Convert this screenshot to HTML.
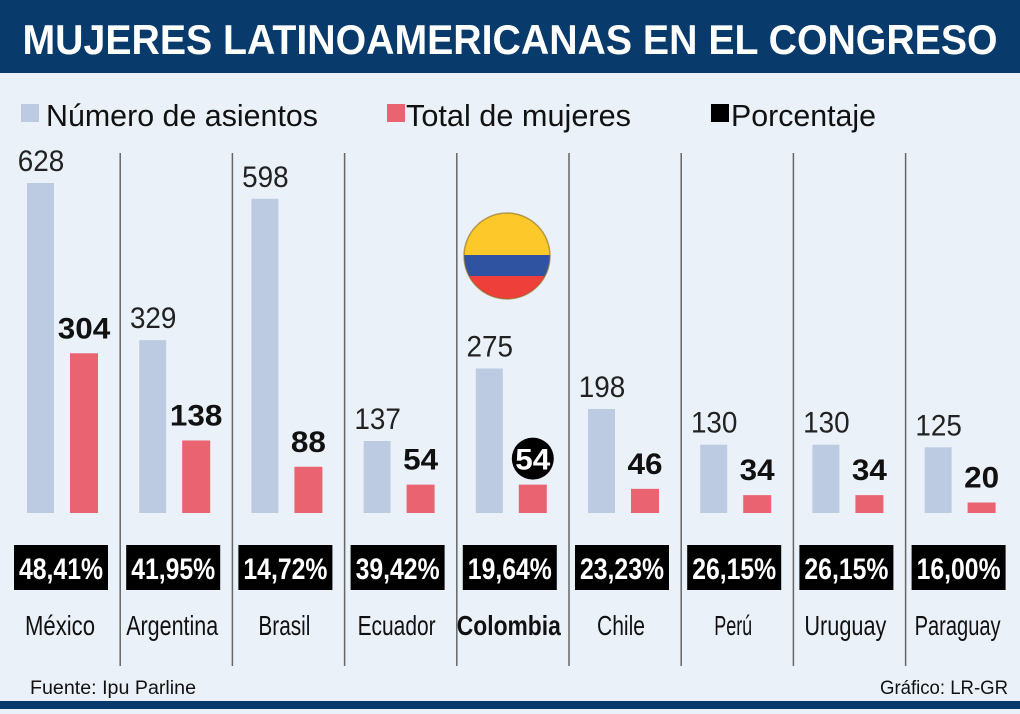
<!DOCTYPE html>
<html><head><meta charset="utf-8"><style>
body{margin:0;width:1020px;height:709px;overflow:hidden;background:#ebf1f9;font-family:"Liberation Sans",sans-serif;}
</style></head><body>
<svg width="1020" height="709" xmlns="http://www.w3.org/2000/svg">
<rect x="0" y="0" width="1020" height="709" fill="#ebf1f9"/>
<rect x="0" y="0" width="1020" height="73" fill="#083b6b"/>
<text x="510" y="54" text-anchor="middle" fill="#fff" font-weight="bold" font-size="42" textLength="975" lengthAdjust="spacingAndGlyphs">MUJERES LATINOAMERICANAS EN EL CONGRESO</text>
<g>
<rect x="21" y="104" width="18" height="18" fill="#bccbe2"/>
<text x="46" y="126" font-size="31" fill="#111" textLength="272" lengthAdjust="spacingAndGlyphs">Número de asientos</text>
<rect x="387" y="104" width="18" height="18" fill="#ea6371"/>
<text x="406" y="126" font-size="31" fill="#111" textLength="225" lengthAdjust="spacingAndGlyphs">Total de mujeres</text>
<rect x="711" y="104" width="18" height="18" fill="#000"/>
<text x="731" y="126" font-size="31" fill="#111" textLength="145" lengthAdjust="spacingAndGlyphs">Porcentaje</text>
</g>
<g id="plot"></g>
<g>
<clipPath id="fc"><circle cx="507" cy="256" r="43"/></clipPath>
<g clip-path="url(#fc)"><rect x="460" y="210" width="95" height="45" fill="#fcc82a"/><rect x="460" y="255" width="95" height="21" fill="#2f53a1"/><rect x="460" y="276" width="95" height="30" fill="#ef3f3a"/></g>
<circle cx="507" cy="256" r="43" fill="none" stroke="#8a6a20" stroke-width="1.5" opacity="0.6"/>
</g>
<text x="30" y="694" font-size="19" fill="#111" textLength="166" lengthAdjust="spacingAndGlyphs">Fuente: Ipu Parline</text>
<text x="1008" y="694" text-anchor="end" font-size="19" fill="#111" textLength="128" lengthAdjust="spacingAndGlyphs">Gráfico: LR-GR</text>
<rect x="0" y="701" width="1020" height="8" fill="#083b6b"/>
</svg>
<script>
const countries=["México","Argentina","Brasil","Ecuador","Colombia","Chile","Perú","Uruguay","Paraguay"];
const seats=[628,329,598,137,275,198,130,130,125];
const women=[304,138,88,54,54,46,34,34,20];
const percents=["48,41%","41,95%","14,72%","39,42%","19,64%","23,23%","26,15%","26,15%","16,00%"];
const labelW={"México":70,"Argentina":92,"Brasil":52,"Ecuador":78,"Colombia":104,"Chile":48,"Perú":38,"Uruguay":82,"Paraguay":86};
const NS="http://www.w3.org/2000/svg";
const g=document.getElementById('plot');
const base=513, scale=330/628, step=112.2, x0=10;
const y=v=>base-v*scale;
function mk(t,a){const e=document.createElementNS(NS,t);for(const k in a)e.setAttribute(k,a[k]);g.appendChild(e);return e;}
countries.forEach((c,i)=>{
  const gx=x0+i*step;
  if(i>0){const l=mk('line',{x1:gx-2,x2:gx-2,y1:153,y2:666,stroke:'#666','stroke-width':1.5});
    
    }
  const bx=gx+17, rx=gx+60;
  const b=mk('rect',{x:bx,y:y(seats[i]),width:27,height:seats[i]*scale,fill:'#bccbe2'});
  
  
  const r=mk('rect',{x:rx,y:y(women[i]),width:28,height:women[i]*scale,fill:'#ea6371'});
  
  
  const s1=String(seats[i]);
  const t1=mk('text',{x:bx+14,y:y(seats[i])-12,'text-anchor':'middle','font-size':30,fill:'#222',textLength:s1.length*15.5,lengthAdjust:'spacingAndGlyphs'});
  t1.textContent=s1;
  
  
  if(c==="Colombia"){
    const ci=mk('circle',{cx:rx+14,cy:y(women[i])-26,r:21,fill:'#000'});
    
    
  }
  const s2=String(women[i]);
  const t2=mk('text',{x:rx+14,y:y(women[i])-15,'text-anchor':'middle','font-size':30,'font-weight':'bold',fill:c==="Colombia"?'#fff':'#111',textLength:s2.length*17.5,lengthAdjust:'spacingAndGlyphs'});
  t2.textContent=s2;
  
  
  const pb=mk('rect',{x:gx+4,y:545,width:94,height:45,fill:'#000'});
  
  
  const pt=mk('text',{x:gx+51,y:579,'text-anchor':'middle','font-size':30,'font-weight':'bold',fill:'#fff',textLength:84,lengthAdjust:'spacingAndGlyphs'});
  pt.textContent=percents[i];
  
  
  const ct=mk('text',{x:gx+50,y:635,'text-anchor':'middle','font-size':28,fill:'#111','font-weight':c==="Colombia"?'bold':'normal',textLength:labelW[c]||60,lengthAdjust:'spacingAndGlyphs'});
  ct.textContent=c;
  
  
});
</script>
</body></html>
